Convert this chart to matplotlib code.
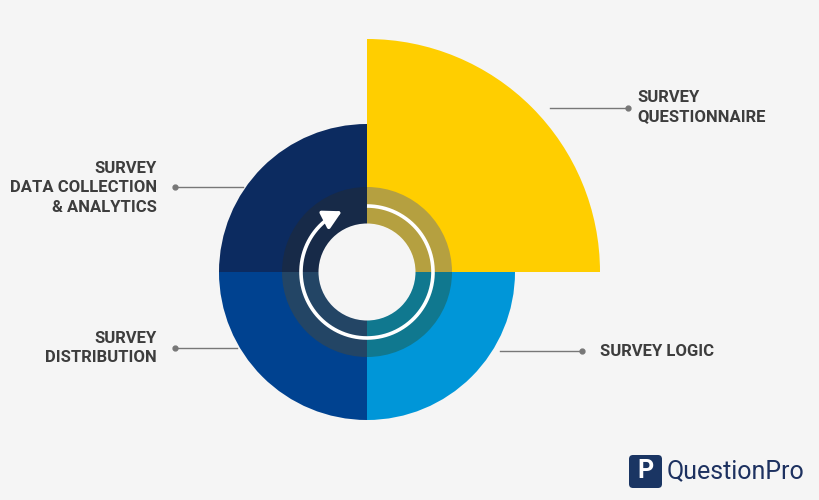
import matplotlib
matplotlib.use("Agg")
import matplotlib.pyplot as plt
from matplotlib.patches import Wedge, Circle, FancyBboxPatch
import numpy as np

categories = ["SURVEY\nQUESTIONNAIRE", "SURVEY LOGIC", "SURVEY\nDISTRIBUTION", "SURVEY\nDATA COLLECTION\n& ANALYTICS"]
radii = [233, 148, 148, 148]
colors = ["#ffce00", "#0096d8", "#004290", "#0c2b60"]
ring_colors = ["#b5a040", "#10788f", "#234565", "#172a48"]
# quadrant start angles (math convention, y up)
starts = [0, 270, 180, 90]

fig = plt.figure(figsize=(8.2, 5), dpi=100)
fig.patch.set_facecolor("#f5f5f5")
ax = fig.add_axes([0, 0, 1, 1])
ax.set_xlim(0, 820); ax.set_ylim(0, 500)
ax.set_aspect("equal"); ax.axis("off")
cx, cy = 367, 500 - 272

for r, c, rc, s in zip(radii, colors, ring_colors, starts):
    ax.add_patch(Wedge((cx, cy), r, s, s + 90, facecolor=c, edgecolor="none"))
    ax.add_patch(Wedge((cx, cy), 85, s, s + 90, width=37, facecolor=rc, edgecolor="none"))
ax.add_patch(Circle((cx, cy), 48.5, facecolor="#f5f5f5", edgecolor="none"))

# circular arrow
th = np.radians(np.linspace(90, -236, 300))
ax.plot(cx + 66 * np.cos(th), cy + 66 * np.sin(th), color="white", lw=2.6, solid_capstyle="butt")
a0 = np.radians(-236)
p0 = (cx + 66 * np.cos(a0), cy + 66 * np.sin(a0))
a1 = np.radians(-250)
p1 = (cx + 66 * np.cos(a1), cy + 66 * np.sin(a1))
ax.annotate("", xy=p1, xytext=p0,
            arrowprops=dict(arrowstyle="-|>,head_length=1.1,head_width=0.6", color="white", lw=2.6))

tc = "#3d3d3d"
fp = dict(family=["Roboto", "DejaVu Sans"], fontweight="bold", fontsize=12, color=tc, linespacing=1.35)
lc = "#777777"
def leader(x0, x1, y, dotx):
    ax.plot([x0, x1], [500 - y, 500 - y], color=lc, lw=1)
    ax.plot([dotx], [500 - y], "o", color=lc, ms=3.5)

leader(550, 628, 108, 628)
ax.text(637, 500 - 107, categories[0], ha="left", va="center", **fp)
leader(500, 582, 351, 582)
ax.text(600, 500 - 351, categories[1], ha="left", va="center", **fp)
leader(175, 237, 348, 175)
ax.text(157, 500 - 348, categories[2], ha="right", va="center", multialignment="right", **fp)
leader(175, 243, 187, 175)
ax.text(157, 500 - 188, categories[3], ha="right", va="center", multialignment="right", **fp)

# logo
ax.add_patch(FancyBboxPatch((629, 500 - 488), 33, 33, boxstyle="round,pad=0,rounding_size=4",
                            facecolor="#1a3563", edgecolor="none"))
ax.text(645.5, 500 - 471, "P", ha="center", va="center", color="white", fontsize=18,
        fontweight="bold", family=["Roboto", "DejaVu Sans"])
ax.text(667, 500 - 471, "QuestionPro", ha="left", va="center", color="#1d3160", fontsize=18,
        family=["Roboto", "DejaVu Sans"])

fig.savefig("out.png", dpi=100, facecolor=fig.get_facecolor())
